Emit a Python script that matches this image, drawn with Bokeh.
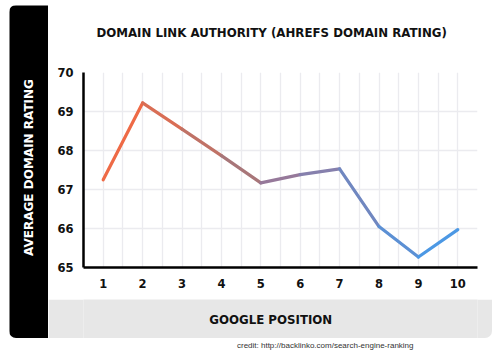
from bokeh.plotting import figure
from bokeh.models import Label, FixedTicker, Range1d, Spacer
from bokeh.layouts import row, column
from bokeh.embed import file_html
from bokeh.resources import INLINE
import math

positions = [1, 2, 3, 4, 5, 6, 7, 8, 9, 10]
ratings = [67.25, 69.22, 68.55, 67.87, 67.17, 67.38, 67.53, 66.05, 65.27, 65.97]
seg_colors = ["#ee6a46", "#d96e55", "#c07266", "#a87679", "#96799a", "#8680ad",
              "#7087c0", "#5c90d4", "#4c98e4"]
x_ticks = [1, 2, 3, 4, 5, 6, 7, 8, 9, 10]
y_ticks = [65, 66, 67, 68, 69, 70]

title_text = "DOMAIN LINK AUTHORITY (AHREFS DOMAIN RATING)"
y_label = "AVERAGE DOMAIN RATING"
x_label = "GOOGLE POSITION"
credit = "credit: http://backlinko.com/search-engine-ranking"


def text_panel(w, h, bg):
    f = figure(width=w, height=h, output_backend="svg", toolbar_location=None,
               x_range=Range1d(0, w), y_range=Range1d(0, h),
               x_axis_location=None, y_axis_location=None,
               min_border=0, min_border_left=0, min_border_right=0,
               min_border_top=0, min_border_bottom=0)
    f.outline_line_color = None
    f.grid.visible = False
    f.background_fill_color = bg
    f.border_fill_color = bg
    return f


# black band with rotated axis title
band = text_panel(39, 333, "black")
band.styles = {"border-radius": "7px 0 0 7px", "overflow": "hidden"}
band.add_layout(Label(x=19, y=171, text=y_label, angle=math.pi / 2,
                      text_font="DejaVu Sans", text_font_style="bold", text_font_size="12px",
                      text_align="center", text_baseline="middle", text_color="white"))

# title strip
top = text_panel(444, 50, "white")
top.add_layout(Label(x=212, y=23, text=title_text,
                     text_font="DejaVu Sans", text_font_style="bold", text_font_size="11.8px",
                     text_align="center", text_baseline="middle", text_color="#111111"))

# main chart
p = figure(width=444, height=244, output_backend="svg", toolbar_location=None,
           x_range=Range1d(0.5, 10.5), y_range=Range1d(65, 70),
           min_border_left=35, min_border_right=15, min_border_top=17, min_border_bottom=32)
p.outline_line_color = None
p.background_fill_color = "white"
p.border_fill_color = "white"

p.xgrid.ticker = FixedTicker(ticks=[0.5 + 0.5 * i for i in range(21)])
p.ygrid.ticker = FixedTicker(ticks=y_ticks)
p.xgrid.grid_line_color = "#ebebef"
p.ygrid.grid_line_color = "#ebebef"
p.xgrid.grid_line_width = 1.3
p.ygrid.grid_line_width = 1.3

for ax in (p.xaxis, p.yaxis):
    ax.axis_line_color = "black"
    ax.axis_line_width = 2.5
    ax.major_tick_line_color = None
    ax.minor_tick_line_color = None
    ax.major_label_text_font = "DejaVu Sans"
    ax.major_label_text_font_style = "bold"
    ax.major_label_text_font_size = "11.5px"
    ax.major_label_text_color = "#111111"
p.xaxis.ticker = FixedTicker(ticks=x_ticks)
p.yaxis.ticker = FixedTicker(ticks=y_ticks)
p.xaxis.major_label_standoff = 5
p.yaxis.major_label_standoff = 4

for i in range(len(positions) - 1):
    p.line(positions[i:i + 2], ratings[i:i + 2], line_color=seg_colors[i], line_width=3.2,
           line_cap="round", line_join="round")

# gray bottom band
gray = text_panel(444, 39, "#e7e7e7")
gray.styles = {"border-radius": "0 0 7px 0", "overflow": "hidden"}
gray.add_layout(Label(x=211, y=19, text=x_label,
                      text_font="DejaVu Sans", text_font_style="bold", text_font_size="11.8px",
                      text_align="center", text_baseline="middle", text_color="#111111"))

# credit strip
cred = text_panel(500, 15, "white")
cred.add_layout(Label(x=413, y=8, text=credit,
                      text_font="Liberation Sans", text_font_size="8px",
                      text_align="right", text_baseline="middle", text_color="#333333"))

card = row(Spacer(width=9, height=333), band,
           column(top, p, gray, spacing=0), Spacer(width=8, height=333), spacing=0)
layout = column(Spacer(width=500, height=5), card, cred, spacing=0)

open("out.html", "w").write(file_html(layout, INLINE))
